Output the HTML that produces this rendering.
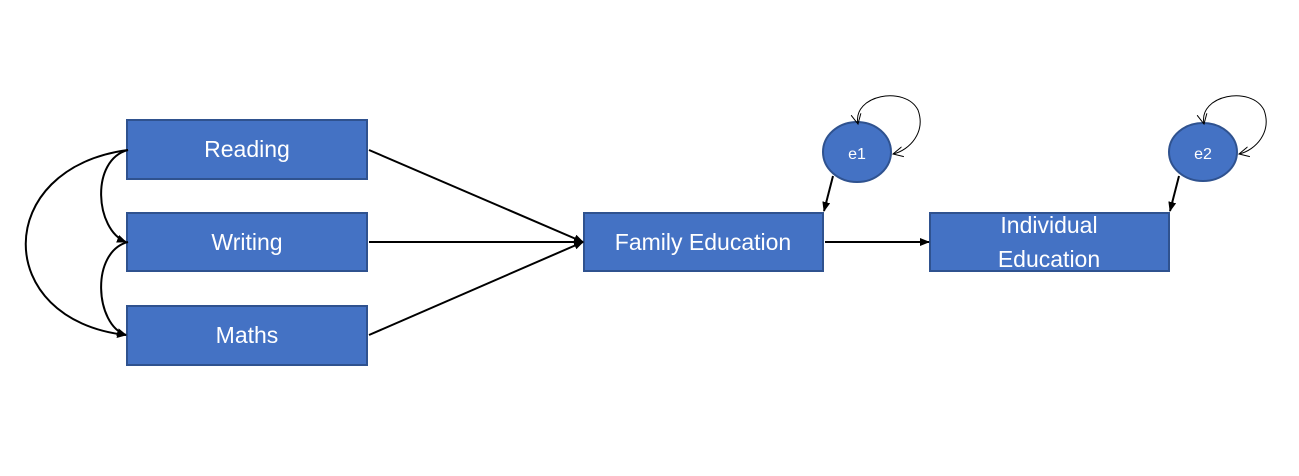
<!DOCTYPE html>
<html><head><style>
body{margin:0;background:#fff;width:1299px;height:471px;overflow:hidden}
svg text{font-family:"Liberation Sans",sans-serif;fill:#fff}
</style></head><body>
<svg width="1299" height="471" viewBox="0 0 1299 471">
<defs>
<marker id="a" markerWidth="10" markerHeight="10" refX="9" refY="5" orient="auto" markerUnits="userSpaceOnUse"><path d="M0,1 L10,5 L0,9 Z" fill="#000"/></marker>
<marker id="o" markerWidth="12" markerHeight="12" refX="10" refY="6" orient="auto-start-reverse" markerUnits="userSpaceOnUse"><path d="M0,1 L10,6 L0,11" fill="none" stroke="#000" stroke-width="1"/></marker>
</defs>
<g fill="#4472C4" stroke="#2F528F" stroke-width="2">
<rect x="127" y="120" width="240" height="59"/>
<rect x="127" y="213" width="240" height="58"/>
<rect x="127" y="306" width="240" height="59"/>
<rect x="584" y="213" width="239" height="58"/>
<rect x="930" y="213" width="239" height="58"/>
<ellipse cx="857" cy="152" rx="34" ry="30"/>
<ellipse cx="1203" cy="152" rx="34" ry="29"/>
</g>
<g font-size="23" text-anchor="middle">
<text x="247" y="157">Reading</text>
<text x="247" y="250">Writing</text>
<text x="247" y="343">Maths</text>
<text x="703" y="250">Family Education</text>
<text x="1049" y="233">Individual</text>
<text x="1049" y="267">Education</text>
<text x="857" y="159" font-size="16">e1</text>
<text x="1203" y="159" font-size="16">e2</text>
</g>
<g stroke="#000" stroke-width="2" fill="none">
<line x1="369" y1="150" x2="583" y2="242" marker-end="url(#a)"/>
<line x1="369" y1="242" x2="583" y2="242" marker-end="url(#a)"/>
<line x1="369" y1="335" x2="583" y2="242" marker-end="url(#a)"/>
<line x1="825" y1="242" x2="929" y2="242" marker-end="url(#a)"/>
<line x1="833" y1="176" x2="824" y2="211" marker-end="url(#a)"/>
<line x1="1179" y1="176" x2="1170" y2="211" marker-end="url(#a)"/>
<path d="M128,150 C90,160 95,230 126,242" marker-end="url(#a)"/>
<path d="M128,242 C90,252 95,325 126,335" marker-end="url(#a)"/>
<path d="M128,150 C-8,168 -8,320 126,335" marker-end="url(#a)"/>
</g>
<g stroke="#000" stroke-width="1" fill="none">
<path d="M858,124 C852,95 905,85 918,110 C926,132 910,150 893,154" marker-end="url(#o)" marker-start="url(#o)"/>
<path d="M1204,124 C1198,95 1251,85 1264,110 C1272,132 1256,150 1239,154" marker-end="url(#o)" marker-start="url(#o)"/>
</g>
</svg>
</body></html>
